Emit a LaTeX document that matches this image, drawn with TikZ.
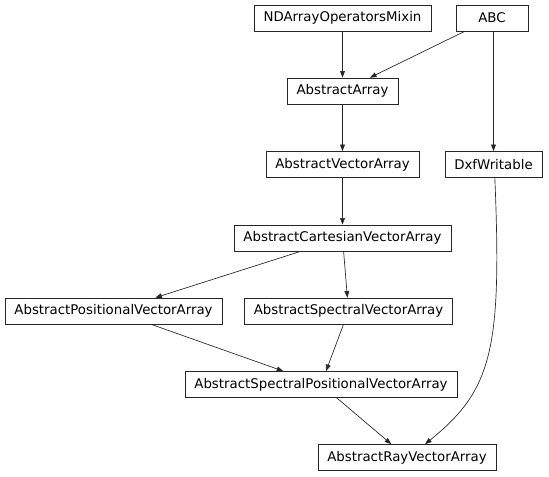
\documentclass[tikz,border=0pt]{standalone}
\usepackage{fontspec}
\setmainfont{DejaVu Sans}
\usepackage{tikz}
\usetikzlibrary{arrows.meta}

\begin{document}
\begin{tikzpicture}[
  x=0.75pt, y=-0.75pt,
  >={Triangle[length=5pt,width=3.6pt]}, font=\fontsize{10}{12}\selectfont,
  cls/.style={rectangle, draw=black!85, fill=white, line width=0.5pt,
              inner xsep=7.1pt, inner ysep=0pt, minimum height=19.5pt, minimum width=54pt},
  e/.style={->, line width=0.5pt, draw=black!85},
]
\useasboundingbox (0,0) rectangle (549,476);
\node[cls] (mixin)   at (342.5,18)    {NDArrayOperatorsMixin};
\node[cls] (abc)     at (492,18)      {ABC};
\node[cls] (arr)     at (342.5,91)    {AbstractArray};
\node[cls] (vec)     at (342.5,164.5) {AbstractVectorArray};
\node[cls] (dxf)     at (493.5,164.5) {DxfWritable};
\node[cls] (cart)    at (342.5,238)   {AbstractCartesianVectorArray};
\node[cls] (pos)     at (113.5,311)   {AbstractPositionalVectorArray};
\node[cls] (spec)    at (348.5,311)   {AbstractSpectralVectorArray};
\node[cls] (specpos) at (321,384.5)   {AbstractSpectralPositionalVectorArray};
\node[cls] (ray)     at (407,457.5)   {AbstractRayVectorArray};

\draw[e] (mixin)   -- (arr);
\draw[e] (abc)     -- (arr);
\draw[e] (abc.south -| dxf.north) -- (dxf);
\draw[e] (arr)     -- (vec);
\draw[e] (vec)     -- (cart);
\draw[e] (cart)    -- (pos);
\draw[e] (cart)    -- (spec);
\draw[e] (pos)     -- (specpos);
\draw[e] (spec)    -- (specpos);
\draw[e] (specpos) -- (ray);
% long edge from DxfWritable down to the ray array
\draw[e] ([xshift=1pt]dxf.south) .. controls (502,350) and (492,390) .. ([xshift=13.5pt]ray.north);
\end{tikzpicture}
\end{document}
